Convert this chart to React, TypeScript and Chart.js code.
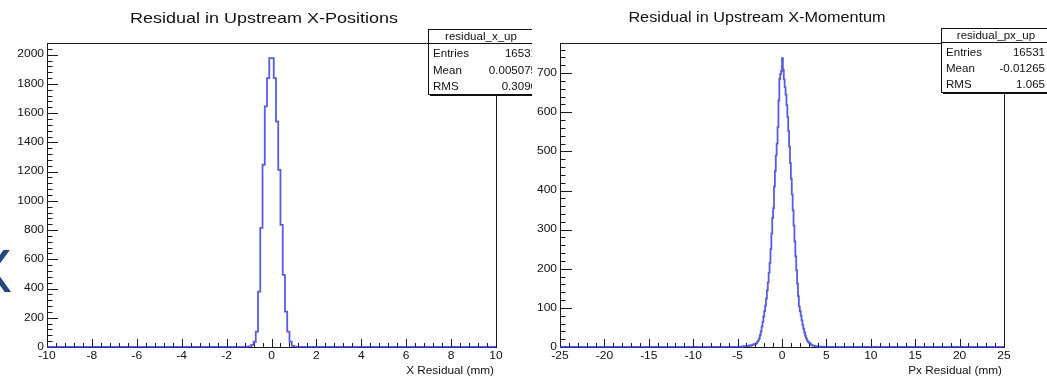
import React, { useEffect, useRef } from "react";
import { Chart, registerables } from "chart.js";

Chart.register(...registerables);

// ---------------- data: left histogram (residual_x_up) ----------------
const leftTitle = "Residual in Upstream X-Positions";
const leftAxisTitle = "X Residual (mm)";
const leftRange = [-10, 10];
const leftXTicks = [-10, -8, -6, -4, -2, 0, 2, 4, 6, 8, 10];
const leftYTicks = [0, 200, 400, 600, 800, 1000, 1200, 1400, 1600, 1800, 2000];
const leftYMax = 2080;
const leftBinStart = -1.2;
const leftBinWidth = 0.1;
const leftCounts = [
  0, 2, 4, 14, 36, 105, 379, 815, 1247, 1646, 1840, 1977,
  1977, 1840, 1543, 1212, 836, 493, 242, 105, 36, 8, 2, 0,
];
const leftStatsName = "residual_x_up";
const leftStatsValues = ["16531", "0.005075", "0.3096"];

// ---------------- data: right histogram (residual_px_up) ----------------
const rightTitle = "Residual in Upstream X-Momentum";
const rightAxisTitle = "Px Residual (mm)";
const rightRange = [-25, 25];
const rightXTicks = [-25, -20, -15, -10, -5, 0, 5, 10, 15, 20, 25];
const rightYTicks = [0, 100, 200, 300, 400, 500, 600, 700];
const rightYMax = 777;
const rightBinStart = -5.0;
const rightBinWidth = 0.1;
const rightCounts = [
  0, 0, 1, 0, 1, 0, 2, 1, 1, 2,
  2, 3, 2, 4, 3, 5, 4, 6, 7, 6,
  8, 10, 13, 17, 22, 30, 40, 52, 64, 78,
  92, 106, 124, 145, 165, 190, 215, 250, 290, 330,
  355, 410, 450, 490, 520, 562, 630, 685, 698, 706,
  738, 708, 684, 664, 645, 618, 588, 552, 512, 470,
  430, 390, 350, 310, 270, 232, 196, 162, 130, 104,
  92, 80, 68, 56, 46, 37, 29, 22, 17, 13,
  11, 9, 7, 5, 4, 3, 3, 2, 2, 1,
  1, 1, 0, 1, 0, 0, 1, 0, 0, 0,
];
const rightStatsName = "residual_px_up";
const rightStatsValues = ["16531", "-0.01265", "1.065"];

const statsLabels = ["Entries", "Mean", "RMS"];

// ---------------- layout / style (page coordinates) ----------------
const FONT = "'Liberation Sans', Arial, Helvetica, sans-serif";
const LINE_COLOR = "rgba(50,50,215,0.8)";

type Panel = {
  canvasLeft: number;
  width: number;
  area: { l: number; r: number; t: number; b: number };
  title: string;
  titleX: number;
  titleY: number;
  titleSize: number;
  titleSx: number;
  axisTitle: string;
  xRange: number[];
  xTicks: number[];
  yTicks: number[];
  yMax: number;
  binStart: number;
  binWidth: number;
  counts: number[];
  yMajorLen: number;
  yMinorLen: number;
  statsName: string;
  statsValues: string[];
  box: { l: number; t: number; r: number; sep: number; b: number; headX: number; textR: number; rows: number[] };
  bigX: boolean;
};

const panels: Panel[] = [
  {
    canvasLeft: 0,
    width: 532,
    area: { l: 47, r: 496, t: 43, b: 347 },
    title: leftTitle,
    titleX: 264,
    titleY: 19,
    titleSize: 15,
    titleSx: 1.2,
    axisTitle: leftAxisTitle,
    xRange: leftRange,
    xTicks: leftXTicks,
    yTicks: leftYTicks,
    yMax: leftYMax,
    binStart: leftBinStart,
    binWidth: leftBinWidth,
    counts: leftCounts,
    yMajorLen: 11,
    yMinorLen: 5.5,
    statsName: leftStatsName,
    statsValues: leftStatsValues,
    box: { l: 428, t: 29, r: 545, sep: 43, b: 94, headX: 481, textR: 537, rows: [54, 71, 87] },
    bigX: true,
  },
  {
    canvasLeft: 532,
    width: 515,
    area: { l: 560, r: 1004, t: 43, b: 347 },
    title: rightTitle,
    titleX: 757,
    titleY: 18,
    titleSize: 14.5,
    titleSx: 1.12,
    axisTitle: rightAxisTitle,
    xRange: rightRange,
    xTicks: rightXTicks,
    yTicks: rightYTicks,
    yMax: rightYMax,
    binStart: rightBinStart,
    binWidth: rightBinWidth,
    counts: rightCounts,
    yMajorLen: 12,
    yMinorLen: 5.5,
    statsName: rightStatsName,
    statsValues: rightStatsValues,
    box: { l: 941, t: 28, r: 1055, sep: 42, b: 92, headX: 996, textR: 1045, rows: [53, 69, 85] },
    bigX: false,
  },
];

function stext(
  ctx: CanvasRenderingContext2D,
  s: string,
  x: number,
  y: number,
  size: number,
  sx: number,
  align: CanvasTextAlign,
  base: CanvasTextBaseline,
  color = "#000"
) {
  ctx.save();
  ctx.font = `${size}px ${FONT}`;
  ctx.fillStyle = color;
  ctx.textAlign = align;
  ctx.textBaseline = base;
  ctx.translate(x, y);
  ctx.scale(sx, 1);
  ctx.fillText(s, 0, 0);
  ctx.restore();
}

function makePlugin(p: Panel) {
  const off = p.canvasLeft;
  return {
    id: "rootFrame",
    beforeDatasetsDraw(chart: any) {
      const ctx: CanvasRenderingContext2D = chart.ctx;
      const a = chart.chartArea;
      const xs = chart.scales.x;
      const ys = chart.scales.y;
      ctx.save();
      ctx.strokeStyle = "#1a1a1a";
      ctx.lineWidth = 1;
      ctx.strokeRect(Math.round(a.left) + 0.5, Math.round(a.top) + 0.5, Math.round(a.right - a.left), Math.round(a.bottom - a.top));
      ctx.beginPath();
      const yStep = p.yTicks[1] - p.yTicks[0];
      const yMinor = yStep / 5;
      for (let k = 0; k * yMinor <= p.yMax + 1e-9; k++) {
        const py = Math.round(ys.getPixelForValue(k * yMinor)) + 0.5;
        const len = k % 5 === 0 ? p.yMajorLen : p.yMinorLen;
        ctx.moveTo(a.left, py);
        ctx.lineTo(a.left + len, py);
      }
      const xStep = p.xTicks[1] - p.xTicks[0];
      const xMinor = xStep / 5;
      for (let k = 0; p.xRange[0] + k * xMinor <= p.xRange[1] + 1e-9; k++) {
        const px = Math.round(xs.getPixelForValue(p.xRange[0] + k * xMinor)) + 0.5;
        const len = k % 5 === 0 ? 8 : 4;
        ctx.moveTo(px, a.bottom);
        ctx.lineTo(px, a.bottom - len);
      }
      ctx.stroke();
      ctx.restore();
    },
    afterDraw(chart: any) {
      const ctx: CanvasRenderingContext2D = chart.ctx;
      const a = chart.chartArea;
      const xs = chart.scales.x;
      const ys = chart.scales.y;
      // tick labels
      for (const v of p.yTicks) {
        stext(ctx, String(v), a.left - 3, ys.getPixelForValue(v), 10, 1.2, "right", "middle", "#111");
      }
      for (const v of p.xTicks) {
        stext(ctx, String(v), xs.getPixelForValue(v), a.bottom + 4, 10, 1.2, "center", "top", "#111");
      }
      // axis title
      stext(ctx, p.axisTitle, a.right - 2, 371, 10, 1.18, "right", "middle", "#111");
      // title
      stext(ctx, p.title, p.titleX - off, p.titleY, p.titleSize, p.titleSx, "center", "middle", "#111");
      // big cut-off slide letter
      if (p.bigX) {
        ctx.save();
        ctx.font = `62px ${FONT}`;
        ctx.fillStyle = "#23497e";
        ctx.textBaseline = "alphabetic";
        ctx.textAlign = "left";
        ctx.fillText("X", -29, 292);
        ctx.restore();
      }
      // stats box
      const b = p.box;
      const l = b.l - off;
      const r = b.r - off;
      ctx.save();
      ctx.fillStyle = "#fff";
      ctx.fillRect(l, b.t, r - l, b.b - b.t);
      ctx.strokeStyle = "#111";
      ctx.lineWidth = 1;
      ctx.strokeRect(l + 0.5, b.t + 0.5, r - l, b.b - b.t);
      ctx.beginPath();
      ctx.moveTo(l, b.sep + 0.5);
      ctx.lineTo(r, b.sep + 0.5);
      ctx.moveTo(l + 2, b.b + 1.5);
      ctx.lineTo(r + 2, b.b + 1.5);
      ctx.stroke();
      ctx.restore();
      stext(ctx, p.statsName, b.headX - off, (b.t + b.sep) / 2 + 1, 11, 1.05, "center", "middle", "#111");
      statsLabels.forEach((lab, i) => {
        stext(ctx, lab, l + 5, b.rows[i], 11, 1.05, "left", "middle", "#111");
        stext(ctx, p.statsValues[i], b.textR - off, b.rows[i], 11, 1.05, "right", "middle", "#111");
      });
    },
  };
}

function histPoints(p: Panel) {
  const pts: { x: number; y: number }[] = [{ x: p.xRange[0], y: 0 }];
  p.counts.forEach((c, i) => {
    pts.push({ x: Number((p.binStart + i * p.binWidth).toFixed(4)), y: c });
  });
  pts.push({ x: Number((p.binStart + p.counts.length * p.binWidth).toFixed(4)), y: 0 });
  pts.push({ x: p.xRange[1], y: 0 });
  return pts;
}

function Hist({ p }: { p: Panel }) {
  const ref = useRef<HTMLCanvasElement>(null);
  useEffect(() => {
    const canvas = ref.current!;
    const chart = new Chart(canvas, {
      type: "line",
      data: {
        datasets: [
          {
            data: histPoints(p),
            stepped: "before",
            borderColor: LINE_COLOR,
            borderWidth: 1.8,
            pointRadius: 0,
            fill: false,
            tension: 0,
            clip: 3,
          } as any,
        ],
      },
      options: {
        responsive: false,
        animation: false,
        events: [],
        layout: {
          padding: {
            left: p.area.l - p.canvasLeft,
            right: p.canvasLeft + p.width - p.area.r,
            top: p.area.t,
            bottom: 376 - p.area.b,
          },
        },
        scales: {
          x: { type: "linear", min: p.xRange[0], max: p.xRange[1], display: false },
          y: { type: "linear", min: 0, max: p.yMax, display: false },
        },
        plugins: { legend: { display: false }, tooltip: { enabled: false }, title: { display: false } },
      },
      plugins: [makePlugin(p)],
    });
    return () => chart.destroy();
  }, []);
  return (
    <canvas
      ref={ref}
      width={p.width}
      height={376}
      style={{ position: "absolute", left: p.canvasLeft, top: 0, width: p.width, height: 376 }}
    />
  );
}

export default function App() {
  return (
    <div style={{ position: "absolute", left: 0, top: 0, width: 1047, height: 376, background: "#fff", overflow: "hidden" }}>
      {panels.map((p, i) => (
        <Hist key={i} p={p} />
      ))}
    </div>
  );
}
